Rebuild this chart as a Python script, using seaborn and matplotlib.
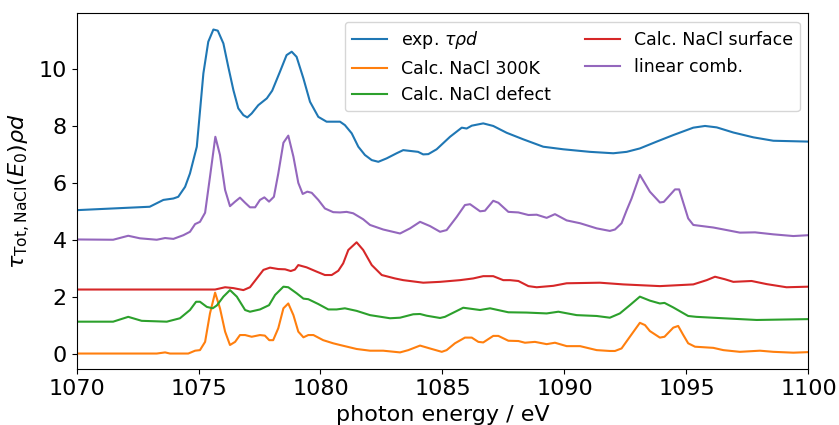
import matplotlib
matplotlib.use("Agg")
import matplotlib.pyplot as plt
import seaborn as sns
import pandas as pd

# ---- data ----
e_exp = [1070.0, 1073.0, 1073.56, 1073.97, 1074.17, 1074.45, 1074.65, 1074.93, 1075.2, 1075.4, 1075.61, 1075.79,
         1076.02, 1076.22, 1076.43, 1076.63, 1076.84, 1077.0, 1077.18, 1077.45, 1077.8, 1078.02, 1078.34, 1078.61,
         1078.82, 1079.02, 1079.3, 1079.57, 1079.91, 1080.25, 1080.8, 1081.0, 1081.28, 1081.55, 1081.82, 1082.1,
         1082.37, 1082.71, 1083.12, 1083.39, 1084.0, 1084.21, 1084.42, 1084.76, 1085.31, 1085.79, 1085.99, 1086.2,
         1086.67, 1087.08, 1087.63, 1088.31, 1089.13, 1089.95, 1091.04, 1092.0, 1092.55, 1093.09, 1093.78, 1094.46,
         1095.28, 1095.76, 1096.24, 1096.92, 1097.74, 1098.56, 1100.0]
v_exp = [5.04, 5.16, 5.40, 5.45, 5.51, 5.86, 6.33, 7.27, 9.85, 10.96, 11.39, 11.35, 10.9, 10.08, 9.26, 8.62, 8.38,
         8.30, 8.44, 8.73, 8.97, 9.24, 9.91, 10.49, 10.61, 10.43, 9.67, 8.85, 8.32, 8.15, 8.15, 8.03, 7.74, 7.27,
         6.98, 6.80, 6.74, 6.86, 7.04, 7.15, 7.09, 7.0, 7.01, 7.18, 7.62, 7.94, 7.91, 8.01, 8.09, 8.0, 7.76, 7.53,
         7.27, 7.18, 7.09, 7.04, 7.09, 7.21, 7.45, 7.68, 7.94, 8.0, 7.95, 7.77, 7.6, 7.48, 7.45]

e_300k = [1070.0, 1073.29, 1073.63, 1073.83, 1074.58, 1074.86, 1075.06, 1075.27, 1075.47, 1075.68, 1075.88, 1076.09,
          1076.29, 1076.5, 1076.7, 1076.91, 1077.18, 1077.52, 1077.72, 1077.9, 1078.06, 1078.27, 1078.48, 1078.68,
          1078.89, 1079.09, 1079.3, 1079.5, 1079.71, 1080.11, 1080.52, 1080.8, 1081.48, 1082.03, 1082.57, 1083.26,
          1083.6, 1084.08, 1084.56, 1084.97, 1085.17, 1085.51, 1085.92, 1086.2, 1086.47, 1086.67, 1087.08, 1087.29,
          1087.7, 1088.11, 1088.38, 1088.79, 1089.27, 1089.61, 1090.09, 1090.64, 1091.32, 1091.86, 1092.07, 1092.34,
          1092.68, 1093.09, 1093.3, 1093.5, 1093.91, 1094.1, 1094.46, 1094.66, 1094.87, 1095.07, 1095.35, 1096.1,
          1096.51, 1097.19, 1098.01, 1098.56, 1099.38, 1100.0]
v_300k = [0.0, 0.0, 0.04, 0.0, 0.0, 0.10, 0.12, 0.41, 1.41, 2.14, 1.59, 0.77, 0.30, 0.41, 0.65, 0.65, 0.59, 0.65,
          0.63, 0.47, 0.47, 0.89, 1.59, 1.76, 1.35, 0.77, 0.57, 0.65, 0.65, 0.47, 0.36, 0.30, 0.16, 0.10, 0.10,
          0.04, 0.12, 0.28, 0.16, 0.06, 0.12, 0.36, 0.56, 0.56, 0.41, 0.39, 0.62, 0.62, 0.45, 0.44, 0.38, 0.41,
          0.33, 0.38, 0.26, 0.26, 0.12, 0.09, 0.09, 0.18, 0.59, 1.08, 1.0, 0.79, 0.56, 0.59, 0.91, 0.97, 0.65, 0.36,
          0.24, 0.20, 0.12, 0.06, 0.10, 0.06, 0.03, 0.05]

e_defect = [1070.0, 1071.5, 1072.12, 1072.67, 1073.7, 1074.24, 1074.65, 1074.9, 1075.06, 1075.34, 1075.58, 1075.75,
            1076.02, 1076.29, 1076.57, 1076.91, 1077.11, 1077.52, 1077.89, 1078.14, 1078.48, 1078.68, 1079.02,
            1079.3, 1079.5, 1079.91, 1080.32, 1080.66, 1081.0, 1081.48, 1082.03, 1082.85, 1083.26, 1083.8, 1084.08,
            1084.35, 1084.9, 1085.1, 1085.85, 1086.54, 1086.95, 1087.7, 1088.45, 1089.27, 1089.75, 1090.5, 1091.32,
            1091.86, 1092.27, 1092.68, 1093.09, 1093.5, 1093.91, 1094.1, 1094.46, 1095.07, 1095.4, 1096.51,
            1097.88, 1100.0]
v_defect = [1.12, 1.12, 1.29, 1.15, 1.12, 1.24, 1.53, 1.82, 1.82, 1.64, 1.59, 1.69, 2.0, 2.23, 2.0, 1.53, 1.47,
            1.55, 1.70, 2.06, 2.35, 2.33, 2.12, 1.93, 1.91, 1.74, 1.55, 1.55, 1.59, 1.50, 1.35, 1.24, 1.26, 1.38,
            1.39, 1.33, 1.25, 1.29, 1.61, 1.53, 1.59, 1.45, 1.44, 1.41, 1.47, 1.35, 1.32, 1.26, 1.41, 1.70, 2.0,
            1.86, 1.76, 1.78, 1.62, 1.32, 1.29, 1.24, 1.18, 1.21]

e_surface = [1070.0, 1075.68, 1076.09, 1076.43, 1076.84, 1077.11, 1077.39, 1077.66, 1077.93, 1078.27, 1078.55,
             1078.78, 1078.95, 1079.09, 1079.43, 1079.84, 1080.18, 1080.46, 1080.73, 1080.93, 1081.14, 1081.48,
             1081.75, 1082.1, 1082.51, 1083.05, 1083.39, 1084.21, 1084.9, 1085.72, 1086.26, 1086.67, 1087.08,
             1087.49, 1087.77, 1088.11, 1088.52, 1088.86, 1089.54, 1090.09, 1091.45, 1092.41, 1093.91, 1095.28,
             1095.83, 1096.17, 1096.58, 1096.92, 1097.67, 1098.29, 1099.1, 1100.0]
v_surface = [2.25, 2.25, 2.33, 2.30, 2.23, 2.33, 2.64, 2.94, 3.02, 2.97, 2.96, 2.90, 2.95, 3.11, 3.03, 2.88, 2.76,
             2.76, 2.91, 3.17, 3.64, 3.91, 3.64, 3.11, 2.76, 2.64, 2.58, 2.49, 2.52, 2.58, 2.64, 2.72, 2.72, 2.58,
             2.58, 2.55, 2.37, 2.33, 2.38, 2.47, 2.49, 2.43, 2.37, 2.43, 2.58, 2.70, 2.61, 2.52, 2.55, 2.44, 2.33,
             2.35]

e_comb = [1070.0, 1071.5, 1072.12, 1072.6, 1073.29, 1073.63, 1073.97, 1074.38, 1074.65, 1074.86, 1075.06, 1075.27,
          1075.47, 1075.69, 1075.88, 1076.09, 1076.29, 1076.5, 1076.7, 1076.91, 1077.11, 1077.32, 1077.52, 1077.7,
          1077.89, 1078.09, 1078.27, 1078.48, 1078.68, 1078.89, 1079.09, 1079.27, 1079.46, 1079.64, 1079.91,
          1080.18, 1080.52, 1080.8, 1081.07, 1081.34, 1081.75, 1082.03, 1082.57, 1083.26, 1083.67, 1084.08,
          1084.49, 1084.9, 1085.17, 1085.58, 1085.92, 1086.13, 1086.54, 1086.74, 1087.08, 1087.29, 1087.7, 1088.11,
          1088.52, 1088.86, 1089.27, 1089.61, 1090.09, 1090.64, 1091.32, 1091.86, 1092.07, 1092.34, 1092.55,
          1092.75, 1093.09, 1093.5, 1093.91, 1094.07, 1094.53, 1094.7, 1095.07, 1095.28, 1096.1, 1096.65, 1097.19,
          1097.81, 1098.56, 1099.38, 1100.0]
v_comb = [4.01, 4.0, 4.14, 4.05, 4.0, 4.06, 4.03, 4.16, 4.28, 4.55, 4.63, 4.95, 6.21, 7.62, 6.98, 5.75, 5.18, 5.34,
          5.48, 5.30, 5.14, 5.14, 5.40, 5.49, 5.34, 5.51, 6.33, 7.41, 7.66, 6.92, 6.0, 5.61, 5.69, 5.65, 5.40, 5.10,
          4.97, 4.96, 4.98, 4.93, 4.72, 4.52, 4.36, 4.22, 4.40, 4.63, 4.48, 4.28, 4.34, 4.80, 5.22, 5.25, 5.0, 5.02,
          5.37, 5.30, 4.98, 4.96, 4.87, 4.88, 4.77, 4.90, 4.68, 4.58, 4.40, 4.31, 4.36, 4.58, 5.04, 5.45, 6.28,
          5.69, 5.31, 5.33, 5.77, 5.77, 4.75, 4.52, 4.43, 4.34, 4.25, 4.26, 4.19, 4.13, 4.16]

labels = [r"exp. $\tau\rho d$", "Calc. NaCl 300K", "Calc. NaCl defect", "Calc. NaCl surface", "linear comb."]
colors = ["#1f77b4", "#ff7f0e", "#2ca02c", "#d62728", "#9467bd"]
series = [(e_exp, v_exp), (e_300k, v_300k), (e_defect, v_defect), (e_surface, v_surface), (e_comb, v_comb)]

fig, ax = plt.subplots(figsize=(8.39, 4.25), dpi=100)
fig.subplots_adjust(left=0.0912, right=0.9636, bottom=0.131, top=0.9687)

for (ex, vy), lab, col in zip(series, labels, colors):
    df = pd.DataFrame({"E": ex, "v": vy})
    sns.lineplot(data=df, x="E", y="v", ax=ax, label=lab, color=col, lw=1.5,
                 sort=False, estimator=None)

ax.set_xlim(1070, 1100)
ax.set_ylim(-0.555, 11.96)
ax.set_xticks([1070, 1075, 1080, 1085, 1090, 1095, 1100])
ax.set_yticks([0, 2, 4, 6, 8, 10])
ax.tick_params(labelsize=16)
ax.set_xlabel("photon energy / eV", fontsize=16)
ax.set_ylabel(r"$\tau_{\mathrm{Tot,NaCl}}(E_0)\rho d$", fontsize=16)
ax.legend(loc="upper right", ncol=2, fontsize=12.5)

fig.savefig("out.png", dpi=100)
